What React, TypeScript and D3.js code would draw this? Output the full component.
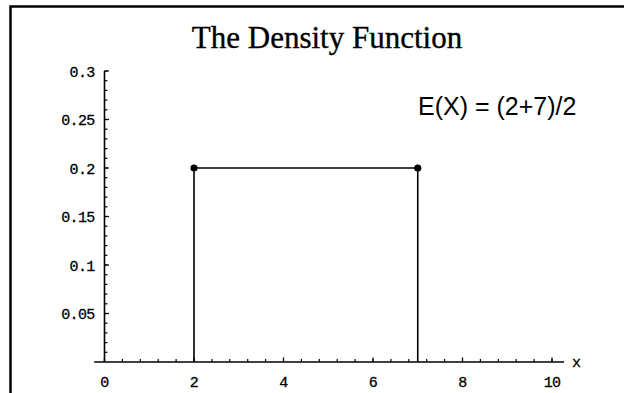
import React, { useEffect } from "react";
import * as d3 from "d3";

// chart data
const title = "The Density Function";
const annotation = "E(X) = (2+7)/2";
const stepX = [2, 2, 7, 7];
const stepY = [0, 0.2, 0.2, 0];
const dotX = [2, 7];
const dotY = [0.2, 0.2];
const xTicks = [0, 2, 4, 6, 8, 10];
const yTicks = [0.05, 0.1, 0.15, 0.2, 0.25, 0.3];
const yTickLabels = ["0.05", "0.1", "0.15", "0.2", "0.25", "0.3"];
const xAxisExtent = [-0.23, 10.27];

const W = 624;
const H = 393;
const mono = "'Liberation Mono', 'DejaVu Sans Mono', monospace";

const App = () => {
  useEffect(() => {
    document.body.style.margin = "0";
    document.body.style.overflow = "hidden";
    document.documentElement.style.overflow = "hidden";
  }, []);

  const x = d3.scaleLinear().domain([0, 10]).range([104.5, 552]);
  const y = d3.scaleLinear().domain([0, 0.3]).range([362, 71]);

  const xMinor = d3.range(0, 10.001, 0.4).filter((v) => v <= xAxisExtent[1]);
  const yMinor = d3.range(0.01, 0.3001, 0.01);

  const line = d3
    .line<number>()
    .x((d, i) => x(stepX[i]))
    .y((d, i) => y(stepY[i]));

  return (
    <svg
      width={W}
      height={H}
      style={{ position: "fixed", left: 0, top: 0, background: "#fff", display: "block" }}
    >
      {/* frame */}
      <line x1={10.5} y1={7} x2={10.5} y2={H} stroke="#000" strokeWidth={2.5} />
      <line x1={9.3} y1={6.5} x2={W} y2={6.5} stroke="#000" strokeWidth={2.5} />

      {/* title */}
      <text
        x={327}
        y={48}
        textAnchor="middle"
        fontFamily="'Liberation Serif', 'Times New Roman', serif"
        fontSize={31}
        stroke="#000"
        strokeWidth={0.35}
      >
        {title}
      </text>

      {/* annotation */}
      <text
        x={418}
        y={115}
        fontFamily="'Liberation Sans', Arial, sans-serif"
        fontSize={25}
      >
        {annotation}
      </text>

      {/* x axis */}
      <line
        x1={x(xAxisExtent[0])}
        x2={x(xAxisExtent[1])}
        y1={y(0)}
        y2={y(0)}
        stroke="#000"
        strokeWidth={1.6}
      />
      {xMinor.map((v, i) => (
        <line
          key={"xm" + i}
          x1={x(v)}
          x2={x(v)}
          y1={y(0)}
          y2={y(0) - 3}
          stroke="#000"
          strokeWidth={1.2}
        />
      ))}
      {xTicks.map((v) => (
        <g key={"xt" + v}>
          <line x1={x(v)} x2={x(v)} y1={y(0)} y2={y(0) - 4.5} stroke="#000" strokeWidth={1.2} />
          <text
            x={x(v)}
            y={387}
            textAnchor="middle"
            fontFamily={mono}
            fontSize={15}
            letterSpacing={-0.7}
            stroke="#000"
            strokeWidth={0.3}
          >
            {v}
          </text>
        </g>
      ))}
      <text x={572} y={367} fontFamily={mono} fontSize={15} stroke="#000" strokeWidth={0.3}>
        x
      </text>

      {/* y axis */}
      <line x1={x(0)} x2={x(0)} y1={y(0)} y2={y(0.3)} stroke="#000" strokeWidth={1.6} />
      {yMinor.map((v, i) => (
        <line
          key={"ym" + i}
          x1={x(0)}
          x2={x(0) + 3}
          y1={y(v)}
          y2={y(v)}
          stroke="#000"
          strokeWidth={1.2}
        />
      ))}
      {yTicks.map((v, i) => (
        <g key={"yt" + v}>
          <line x1={x(0)} x2={x(0) + 4.5} y1={y(v)} y2={y(v)} stroke="#000" strokeWidth={1.2} />
          <text
            x={x(0) - 10}
            y={y(v) + 5.5}
            textAnchor="end"
            fontFamily={mono}
            fontSize={15}
            letterSpacing={-0.7}
            stroke="#000"
            strokeWidth={0.3}
          >
            {yTickLabels[i]}
          </text>
        </g>
      ))}

      {/* density */}
      <path d={line(stepX) || ""} fill="none" stroke="#000" strokeWidth={1.6} />
      {dotX.map((v, i) => (
        <circle key={"d" + i} cx={x(v)} cy={y(dotY[i])} r={3.6} fill="#000" />
      ))}
    </svg>
  );
};

export default App;
